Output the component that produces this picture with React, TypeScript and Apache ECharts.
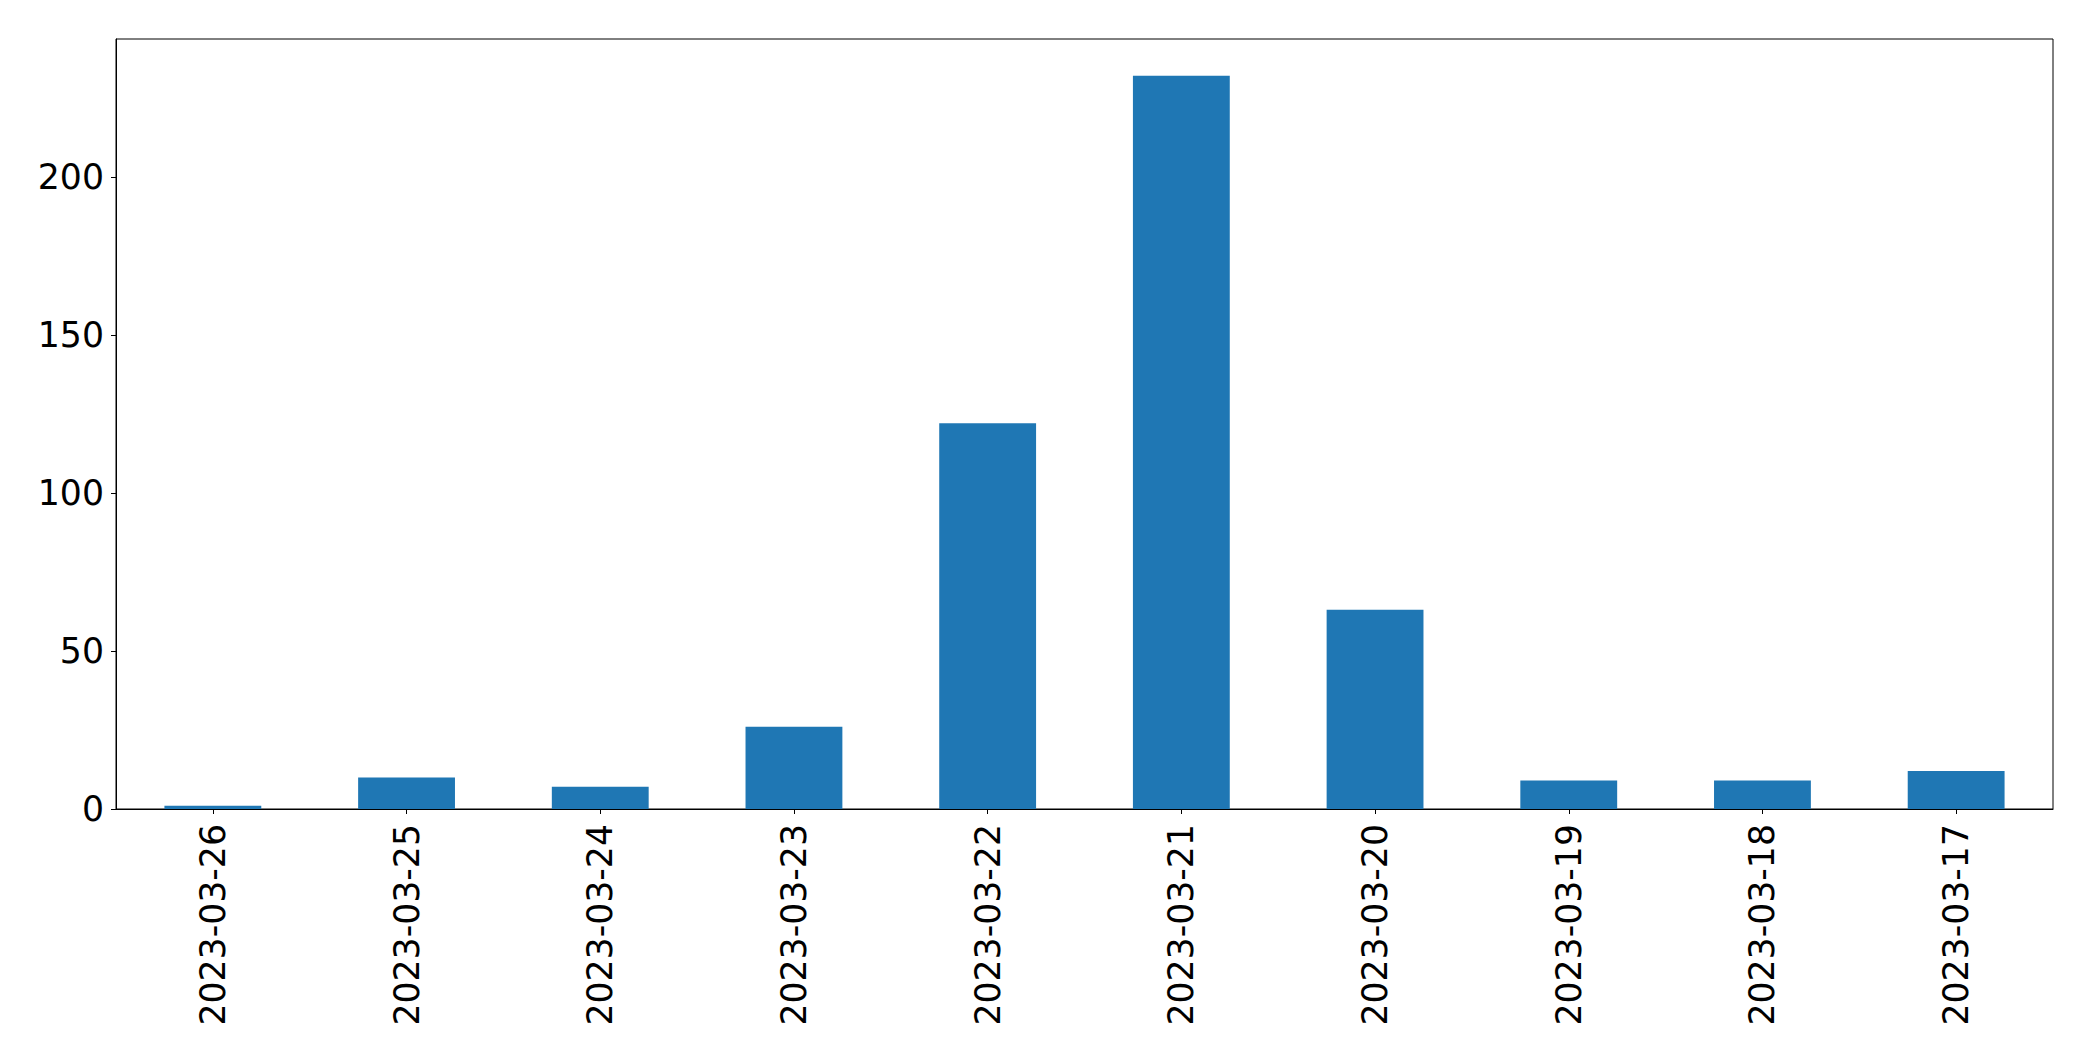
import React, { useEffect, useRef } from "react";
import * as echarts from "echarts";

const categories = [
  "2023-03-26",
  "2023-03-25",
  "2023-03-24",
  "2023-03-23",
  "2023-03-22",
  "2023-03-21",
  "2023-03-20",
  "2023-03-19",
  "2023-03-18",
  "2023-03-17",
];
const values = [1, 10, 7, 26, 122, 232, 63, 9, 9, 12];
const yMax = 243.6;
const yInterval = 50;

export default function App() {
  const ref = useRef<HTMLDivElement>(null);
  useEffect(() => {
    if (!ref.current) return;
    const chart = echarts.init(ref.current, null, { renderer: "svg" });
    const font = "DejaVu Sans";
    chart.setOption({
      animation: false,
      backgroundColor: "#ffffff",
      grid: {
        left: 116,
        top: 39,
        width: 1937,
        height: 770,
        show: true,
        borderColor: "#000000",
        borderWidth: 1,
        backgroundColor: "transparent",
      },
      xAxis: {
        type: "category",
        data: categories,
        axisLine: { show: true, lineStyle: { color: "#000", width: 1 } },
        axisTick: { show: true, alignWithLabel: true, length: 5, lineStyle: { color: "#000" } },
        axisLabel: {
          rotate: 90,
          interval: 0,
          margin: 15,
          color: "#000",
          fontFamily: font,
          fontSize: 34.7,
        },
        splitLine: { show: false },
      },
      yAxis: {
        type: "value",
        min: 0,
        max: yMax,
        interval: yInterval,
        axisLine: { show: true, lineStyle: { color: "#000", width: 1 } },
        axisTick: { show: true, length: 5, lineStyle: { color: "#000" } },
        axisLabel: {
          margin: 12,
          color: "#000",
          fontFamily: font,
          fontSize: 34.7,
          showMaxLabel: false,
          formatter: (v: number) => (v % yInterval === 0 ? String(v) : ""),
        },
        splitLine: { show: false },
      },
      series: [
        {
          type: "bar",
          data: values,
          barWidth: "50%",
          itemStyle: { color: "#1f77b4" },
        },
      ],
    });
    return () => chart.dispose();
  }, []);
  return (
    <div
      ref={ref}
      style={{ position: "absolute", left: 0, top: 0, width: 2093, height: 1061 }}
    />
  );
}
